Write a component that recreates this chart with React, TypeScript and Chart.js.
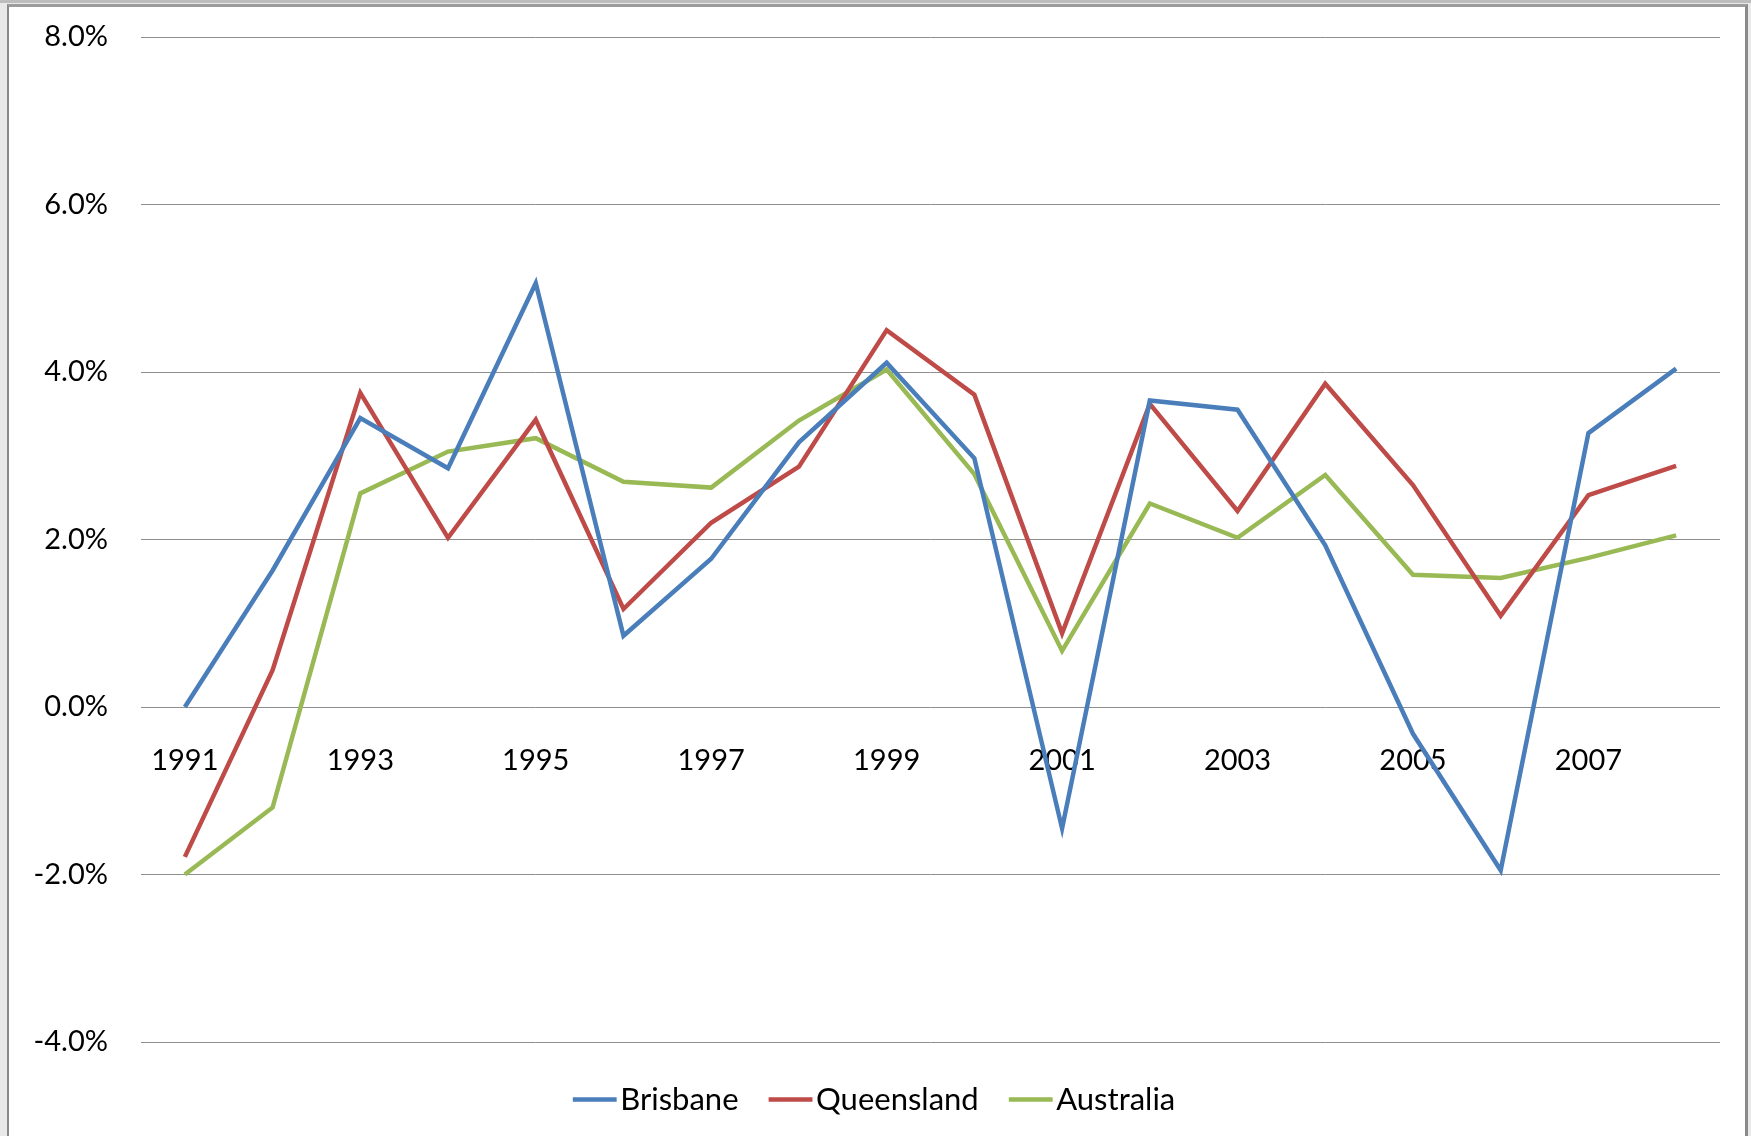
import React, { useEffect, useRef } from 'react';
import { Chart, registerables } from 'chart.js';

Chart.register(...registerables);

const years = ['1991', '1992', '1993', '1994', '1995', '1996', '1997', '1998', '1999', '2000', '2001', '2002', '2003', '2004', '2005', '2006', '2007', '2008'];
const brisbane = [0.0, 1.63, 3.45, 2.85, 5.06, 0.85, 1.77, 3.16, 4.11, 2.97, -1.45, 3.66, 3.55, 1.93, -0.32, -1.95, 3.27, 4.04];
const queensland = [-1.79, 0.44, 3.75, 2.02, 3.43, 1.17, 2.2, 2.87, 4.5, 3.73, 0.88, 3.62, 2.34, 3.86, 2.65, 1.09, 2.53, 2.88];
const australia = [-2.0, -1.2, 2.55, 3.05, 3.21, 2.69, 2.62, 3.42, 4.03, 2.78, 0.67, 2.43, 2.02, 2.77, 1.58, 1.54, 1.78, 2.05];
const yMin = -4;
const yMax = 8;
const yStep = 2;

const FONT = 'Lato, "Open Sans", sans-serif';
const LW = 4.5;

const legendShift = {
  id: 'legendShift',
  afterLayout(chart: any) {
    const lg = chart.legend;
    if (lg) {
      lg.left += 20;
      lg.right += 20;
    }
  },
};

export default function App() {
  const ref = useRef<HTMLCanvasElement | null>(null);

  useEffect(() => {
    if (!ref.current) return;
    const chart = new Chart(ref.current, {
      type: 'line',
      data: {
        labels: years,
        datasets: [
          { label: 'Brisbane', data: brisbane, borderColor: '#4A7EBB', backgroundColor: '#4A7EBB', borderWidth: LW },
          { label: 'Queensland', data: queensland, borderColor: '#BE4B48', backgroundColor: '#BE4B48', borderWidth: LW },
          { label: 'Australia', data: australia, borderColor: '#98B954', backgroundColor: '#98B954', borderWidth: LW },
        ],
      },
      plugins: [legendShift],
      options: {
        animation: false,
        responsive: false,
        maintainAspectRatio: false,
        devicePixelRatio: 1,
        elements: {
          line: { tension: 0, borderCapStyle: 'butt', borderJoinStyle: 'miter' },
          point: { radius: 0, hoverRadius: 0 },
        },
        layout: { padding: { left: 0, right: 31, top: 37, bottom: 11 } },
        scales: {
          x: {
            type: 'category',
            offset: true,
            position: { y: 0 } as any,
            grid: { display: false, drawTicks: false },
            border: { display: false },
            ticks: {
              autoSkip: false,
              maxRotation: 0,
              padding: 36,
              color: '#000',
              font: { family: FONT, size: 29 },
              callback: (_v: any, i: number) => (i % 2 === 0 ? years[i] : ''),
            },
          },
          y: {
            min: yMin,
            max: yMax,
            afterFit: (s: any) => {
              s.width = 141;
              s.paddingTop = 0;
              s.paddingBottom = 0;
            },
            grid: { color: '#8e8e8e', lineWidth: 1, drawTicks: false },
            border: { display: false },
            ticks: {
              stepSize: yStep,
              padding: 33,
              color: '#000',
              font: { family: FONT, size: 29 },
              callback: (v: any) => Number(v).toFixed(1) + '%',
            },
          },
        },
        plugins: {
          tooltip: { enabled: false },
          legend: {
            position: 'bottom',
            labels: {
              usePointStyle: true,
              pointStyle: 'line',
              boxWidth: 20,
              padding: 42,
              color: '#000',
              font: { family: FONT, size: 31 },
            },
          },
        },
      },
    });
    return () => chart.destroy();
  }, []);

  return (
    <div style={{ position: 'absolute', left: 0, top: 0, width: 1751, height: 1136, background: '#e9e9e9', overflow: 'hidden' }}>
      <div
        style={{
          position: 'absolute',
          left: 7,
          top: 4,
          width: 1736,
          height: 1200,
          background: '#fff',
          borderLeft: '2px solid #8a8a8a',
          borderRight: '3px solid #8a8a8a',
          borderTop: '3px solid #9c9c9c',
        }}
      />
      <div style={{ position: 'absolute', left: 0, top: 0, width: 1751, height: 3, background: '#bdbdbd' }} />
      <canvas ref={ref} width={1751} height={1136} style={{ position: 'absolute', left: 0, top: 0, width: 1751, height: 1136 }} />
    </div>
  );
}
